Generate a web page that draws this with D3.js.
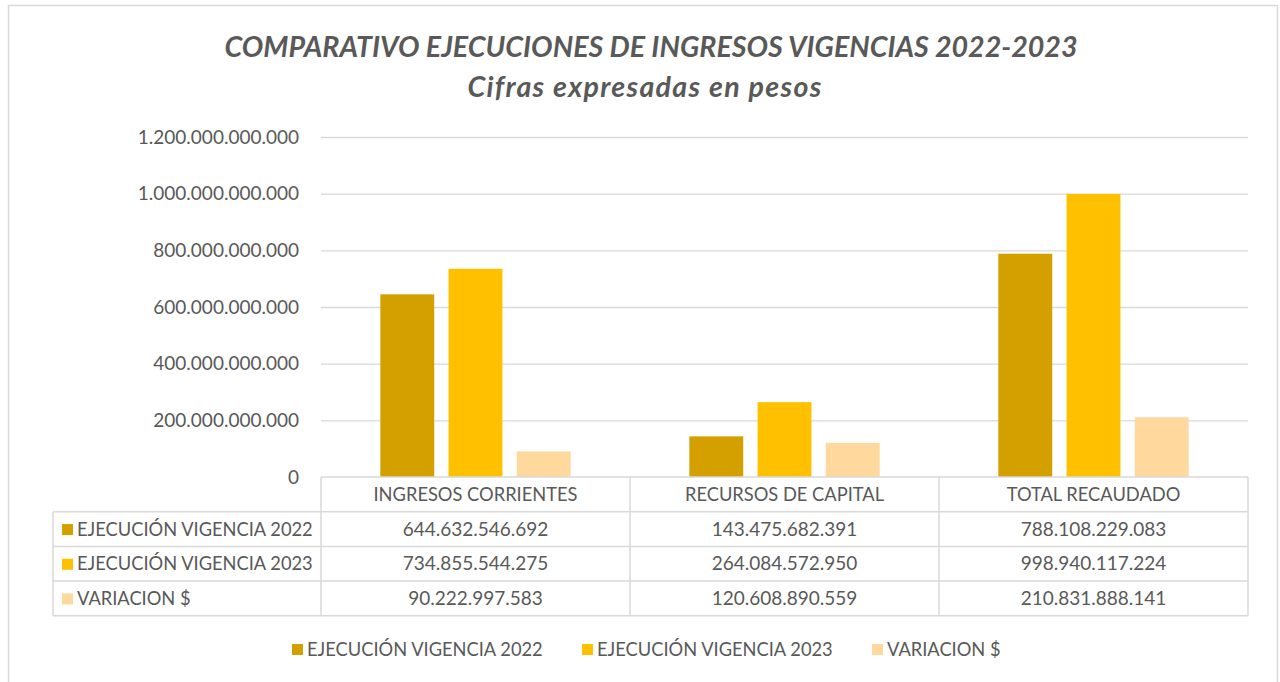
<!DOCTYPE html>
<html>
<head>
<meta charset="utf-8">
<script src="https://cdn.jsdelivr.net/npm/d3@7"></script>
<style>
  body { margin: 0; background: #fff; }
  text { font-family: Lato, "Open Sans", sans-serif; fill: #595959; }
</style>
</head>
<body>
<div id="chart"></div>
<script>

var categories = ["INGRESOS CORRIENTES", "RECURSOS DE CAPITAL", "TOTAL RECAUDADO"];
var seriesNames = ["EJECUCIÓN VIGENCIA 2022", "EJECUCIÓN VIGENCIA 2023", "VARIACION $"];
var values2022 = [644632546692, 143475682391, 788108229083];
var values2023 = [734855544275, 264084572950, 998940117224];
var variacion = [90222997583, 120608890559, 210831888141];
var yTicks = [0, 200e9, 400e9, 600e9, 800e9, 1000e9, 1200e9];
var colors = ["#D4A000", "#FFC000", "#FFD89E"];

var width = 1280;
var height = 682;
var margin = {top: 137, left: 321, right: 32, bottom: 205};

var seriesValues = [values2022, values2023, variacion];

var locale = d3.formatLocale({decimal: ",", thousands: ".", grouping: [3], currency: ["$", ""]});
var fmt = locale.format(",.0f");

var labelSize = "18.3px";
var numSize = "19px";

var svg = d3.select("#chart")
    .append("svg")
    .attr("width", width)
    .attr("height", height);

// outer frame
svg.append("rect")
    .attr("x", 8.5)
    .attr("y", 5.5)
    .attr("width", 1269)
    .attr("height", 700)
    .attr("fill", "none")
    .attr("stroke", "#D9D9D9")
    .attr("stroke-width", 1.5);

svg.append("text")
    .attr("x", 651)
    .attr("y", 57)
    .attr("text-anchor", "middle")
    .style("font-size", "28.6px")
    .style("font-weight", "bold")
    .style("font-style", "italic")
    .text("COMPARATIVO EJECUCIONES DE INGRESOS VIGENCIAS 2022-2023");

svg.append("text")
    .attr("x", 645)
    .attr("y", 97)
    .attr("text-anchor", "middle")
    .style("font-size", "28.6px")
    .style("font-weight", "bold")
    .style("font-style", "italic")
    .style("letter-spacing", "1.3px")
    .text("Cifras expresadas en pesos");

var xScale = d3.scaleBand()
    .domain(categories)
    .range([margin.left, width - margin.right]);

var xSub = d3.scaleBand()
    .domain(seriesNames)
    .range([0, xScale.bandwidth()])
    .paddingInner(0.21)
    .paddingOuter(0.87);

var yScale = d3.scaleLinear()
    .domain([0, 1200e9])
    .range([height - margin.bottom, margin.top]);

// gridlines
svg.append("g")
    .selectAll("line")
    .data(yTicks.slice(1))
    .enter()
    .append("line")
        .attr("x1", margin.left)
        .attr("x2", width - margin.right)
        .attr("y1", function(d) { return yScale(d) + 0.5; })
        .attr("y2", function(d) { return yScale(d) + 0.5; })
        .attr("stroke", "#D9D9D9")
        .attr("stroke-width", 1.3);

var yAxis = svg.append("g")
    .attr("class", "axis")
    .attr("transform", `translate(${margin.left - 22},0)`)
    .call(d3.axisLeft(yScale).tickValues(yTicks).tickSize(0).tickPadding(0).tickFormat(fmt));
yAxis.select(".domain").remove();
yAxis.selectAll("text")
    .style("font-size", numSize)
    .style("font-family", "Lato, sans-serif")
    .attr("fill", "#595959");

// bars
var groups = svg.selectAll(".cat")
    .data(categories)
    .enter()
    .append("g")
    .attr("class", "cat")
    .attr("transform", function(d) { return `translate(${xScale(d)},0)`; });

groups.selectAll("rect")
    .data(function(d, i) {
        return seriesNames.map(function(s, j) { return {name: s, value: seriesValues[j][i], j: j}; });
    })
    .enter()
    .append("rect")
        .attr("x", function(d) { return xSub(d.name); })
        .attr("width", xSub.bandwidth())
        .attr("y", function(d) { return yScale(d.value); })
        .attr("height", function(d) { return yScale(0) - yScale(d.value); })
        .attr("fill", function(d) { return colors[d.j]; });

// data table
var rowH = 34.7;
var tableTop = yScale(0);
var labelLeft = 53;
var grid = "#D9D9D9";
var table = svg.append("g");

table.append("line")
    .attr("x1", margin.left).attr("x2", width - margin.right)
    .attr("y1", tableTop).attr("y2", tableTop)
    .attr("stroke", grid).attr("stroke-width", 1.5);

for (var r = 1; r <= 4; r++) {
    table.append("line")
        .attr("x1", labelLeft).attr("x2", width - margin.right)
        .attr("y1", tableTop + r * rowH).attr("y2", tableTop + r * rowH)
        .attr("stroke", grid).attr("stroke-width", 1.5);
}

table.append("line")
    .attr("x1", labelLeft).attr("x2", labelLeft)
    .attr("y1", tableTop + rowH).attr("y2", tableTop + 4 * rowH)
    .attr("stroke", grid).attr("stroke-width", 1.5);

var colEdges = categories.map(function(c) { return xScale(c); }).concat([width - margin.right]);
colEdges.forEach(function(x) {
    table.append("line")
        .attr("x1", x).attr("x2", x)
        .attr("y1", tableTop).attr("y2", tableTop + 4 * rowH)
        .attr("stroke", grid).attr("stroke-width", 1.5);
});

table.selectAll(".hdr")
    .data(categories)
    .enter()
    .append("text")
        .attr("x", function(d) { return xScale(d) + xScale.bandwidth() / 2; })
        .attr("y", tableTop + rowH / 2 + 6.5)
        .attr("text-anchor", "middle")
        .style("font-size", labelSize)
        .text(function(d) { return d; });

seriesNames.forEach(function(s, j) {
    var cy = tableTop + (j + 1) * rowH + rowH / 2;
    table.append("rect")
        .attr("x", 62).attr("y", cy - 5)
        .attr("width", 11).attr("height", 11)
        .attr("fill", colors[j]);
    table.append("text")
        .attr("x", 77)
        .attr("y", cy + 6.5)
        .style("font-size", labelSize)
        .text(s);
    table.selectAll(".v" + j)
        .data(seriesValues[j])
        .enter()
        .append("text")
            .attr("x", function(d, i) { return xScale(categories[i]) + xScale.bandwidth() / 2; })
            .attr("y", cy + 6.5)
            .attr("text-anchor", "middle")
            .style("font-size", numSize)
            .text(function(d) { return fmt(d); });
});

// legend
var legendX = [292, 582, 872];
var legend = svg.selectAll(".legend")
    .data(seriesNames)
    .enter()
    .append("g")
    .attr("class", "legend")
    .attr("transform", function(d, i) { return `translate(${legendX[i]},649)`; });

legend.append("rect")
    .attr("x", 0).attr("y", -5)
    .attr("width", 11).attr("height", 11)
    .attr("fill", function(d, i) { return colors[i]; });

legend.append("text")
    .attr("x", 15)
    .attr("y", 6.5)
    .style("font-size", labelSize)
    .text(function(d) { return d; });

</script>
</body>
</html>
